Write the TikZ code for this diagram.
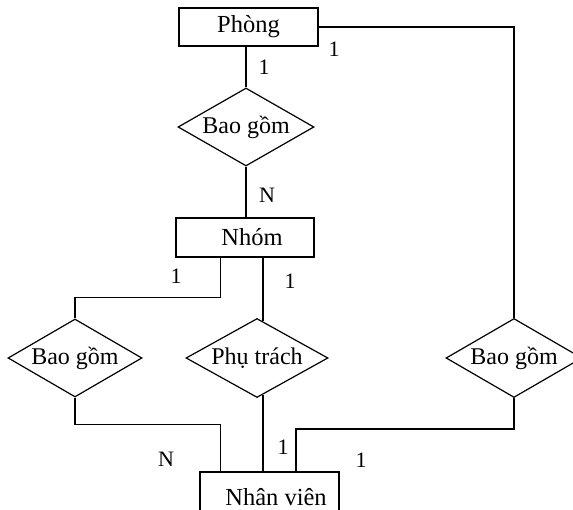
\documentclass[tikz,border=0pt]{standalone}
\usepackage{fontspec}
\setmainfont{Liberation Serif}
\usetikzlibrary{shapes.geometric}
\begin{document}
\begin{tikzpicture}[x=1pt,y=-1pt,
  ent/.style={draw, rectangle, line width=1.2pt, inner sep=0pt, font=\fontsize{24.5}{28}\selectfont},
  rel/.style={draw, diamond, line width=1.2pt, inner sep=0pt, aspect=1.75, font=\fontsize{24}{28}\selectfont},
  card/.style={inner sep=0pt, font=\fontsize{22}{25}\selectfont},
  conn/.style={line width=1.2pt}]
\useasboundingbox (0,0) rectangle (573,510);
% entities
\node[ent, minimum width=139pt, minimum height=38pt] (phong) at (248.5,27) {Phòng};
\node[ent, minimum width=138pt, minimum height=39pt] (nhom) at (245,237.5) {\hspace*{14pt}Nhóm};
\node[ent, minimum width=139pt, minimum height=50pt] (nv) at (269.5,497) {\hspace*{13pt}Nhân viên};
% relationships
\node[rel, minimum width=136pt, minimum height=78pt] (d1) at (246,127) {Bao gồm};
\node[rel, minimum width=134pt, minimum height=78pt] (d2) at (75,358) {Bao gồm};
\node[rel, minimum width=142pt, minimum height=79pt] (d3) at (257,358) {Phụ trách};
\node[rel, minimum width=136pt, minimum height=79pt] (d4) at (514,358) {Bao gồm};
% connectors
\draw[conn] (d1.north |- phong.south) -- (d1.north);
\draw[conn] (d1.south) -- (d1.south |- nhom.north);
\draw[conn] (phong.east) -| (d4.north);
\draw[conn] ([xshift=-24.3pt]nhom.south) -- ++(0,40) -| (d2.north);
\draw[conn] ([xshift=18pt]nhom.south) -- ([xshift=6pt,yshift=-3.2pt]d3.north);
\draw[conn] ([xshift=6pt,yshift=3.2pt]d3.south) -- ([xshift=-6.5pt]nv.north);
\draw[conn] (d2.south) -- ++(0,27) -| ([xshift=-48.8pt]nv.north);
\draw[conn] (d4.south) -- ++(0,31) -| ([xshift=26.5pt]nv.north);
% cardinalities
\node[card] (c1) at (334,49) {1};
\node[card] (c2) at (264,67) {1};
\node[card] (c3) at (267,195) {N};
\node[card] (c4) at (176,276) {1};
\node[card] (c5) at (290,281) {1};
\node[card] (c6) at (166,459) {N};
\node[card] (c7) at (283,447) {1};
\node[card] (c8) at (361,460) {1};
\end{tikzpicture}
\end{document}
